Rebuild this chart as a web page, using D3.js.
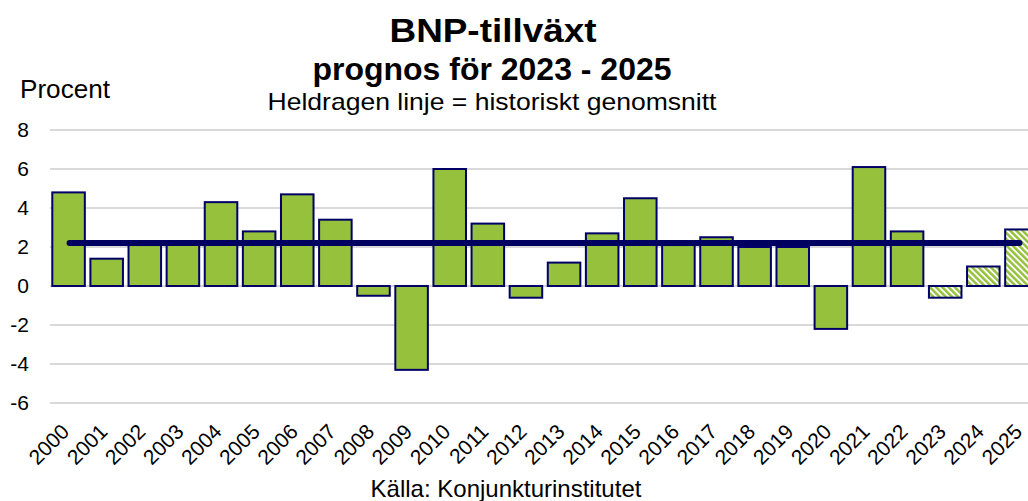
<!DOCTYPE html>
<html>
<head>
<meta charset="utf-8">
<script src="https://cdn.jsdelivr.net/npm/d3@7"></script>
<style>
  html, body { margin: 0; padding: 0; background: #fff; }
  svg { display: block; font-family: "Liberation Sans", Arial, sans-serif; }
</style>
</head>
<body>
<svg id="chart" width="1028" height="501"></svg>
<script>
const years = ["2000","2001","2002","2003","2004","2005","2006","2007","2008","2009","2010","2011","2012","2013","2014","2015","2016","2017","2018","2019","2020","2021","2022","2023","2024","2025"];
const growth = [4.8, 1.4, 2.1, 2.3, 4.3, 2.8, 4.7, 3.4, -0.5, -4.3, 6.0, 3.2, -0.6, 1.2, 2.7, 4.5, 2.1, 2.5, 2.0, 2.0, -2.2, 6.1, 2.8, -0.6, 1.0, 2.9];
const forecastYears = ["2023", "2024", "2025"];
const historicalMean = 2.2;
const yTicks = [-6, -4, -2, 0, 2, 4, 6, 8];

const svg = d3.select("#chart");
const green = "#95c13d";
const navy = "#000066";
const font = "Liberation Sans, Arial, sans-serif";

const x = d3.scaleBand().domain(years).range([50, 1040]).paddingInner(0.146).paddingOuter(0.06);
const y = d3.scaleLinear().domain([-6, 8]).range([403, 130]);

// hatch pattern
const defs = svg.append("defs");
const pat = defs.append("pattern")
  .attr("id", "hatch").attr("patternUnits", "userSpaceOnUse")
  .attr("width", 4.4).attr("height", 4.4)
  .attr("patternTransform", "rotate(-45)");
pat.append("rect").attr("width", 4.4).attr("height", 4.4).attr("fill", "#fff");
pat.append("rect").attr("x", 0).attr("width", 2.5).attr("height", 4.4).attr("fill", green);

// gridlines
svg.append("g").selectAll("line").data(yTicks).join("line")
  .attr("x1", 50).attr("x2", 1028)
  .attr("y1", d => y(d)).attr("y2", d => y(d))
  .attr("stroke", "#d9d9d9").attr("stroke-width", 1.8);

// y axis labels
const yAxis = d3.axisLeft(y).tickValues(yTicks).tickSize(0).tickPadding(0).tickFormat(d => String(d));
const ya = svg.append("g").attr("transform", "translate(29,0)").call(yAxis);
ya.select(".domain").remove();
ya.selectAll("text").attr("font-size", 21).attr("fill", "#000").attr("font-family", font);

// bars
svg.append("g").selectAll("rect").data(years).join("rect")
  .attr("x", d => x(d))
  .attr("width", x.bandwidth())
  .attr("y", (d, i) => y(Math.max(0, growth[i])))
  .attr("height", (d, i) => Math.abs(y(growth[i]) - y(0)))
  .attr("fill", d => forecastYears.includes(d) ? "url(#hatch)" : green)
  .attr("stroke", navy).attr("stroke-width", 2);

// mean line
svg.append("line")
  .attr("x1", x(years[0]) + x.bandwidth() / 2 + 1)
  .attr("x2", x(years[years.length - 1]) + x.bandwidth() / 2 - 2)
  .attr("y1", y(historicalMean)).attr("y2", y(historicalMean))
  .attr("stroke", "#000060").attr("stroke-width", 6).attr("stroke-linecap", "round");

// x labels
const xAxis = d3.axisBottom(x).tickSize(0).tickPadding(0);
const xa = svg.append("g").call(xAxis);
xa.select(".domain").remove();
xa.selectAll(".tick").attr("transform", d => `translate(${x(d) + x.bandwidth() / 2 + 2},433)`);
xa.selectAll("text")
  .attr("font-size", 21).attr("fill", "#000").attr("font-family", font)
  .attr("text-anchor", "end").attr("dy", 0).attr("y", 0)
  .attr("transform", "rotate(-45)");

// titles
svg.append("text").attr("x", 493).attr("y", 42).attr("text-anchor", "middle")
  .attr("font-size", 34).attr("font-weight", "bold")
  .attr("textLength", 207).attr("lengthAdjust", "spacingAndGlyphs").text("BNP-tillväxt");
svg.append("text").attr("x", 492).attr("y", 80).attr("text-anchor", "middle")
  .attr("font-size", 31).attr("font-weight", "bold")
  .attr("textLength", 359).attr("lengthAdjust", "spacingAndGlyphs").text("prognos för 2023 - 2025");
svg.append("text").attr("x", 492).attr("y", 110).attr("text-anchor", "middle")
  .attr("font-size", 24)
  .attr("textLength", 449).attr("lengthAdjust", "spacingAndGlyphs").text("Heldragen linje = historiskt genomsnitt");
svg.append("text").attr("x", 20).attr("y", 98)
  .attr("font-size", 25)
  .attr("textLength", 90).attr("lengthAdjust", "spacingAndGlyphs").text("Procent");
svg.append("text").attr("x", 506).attr("y", 497).attr("text-anchor", "middle")
  .attr("font-size", 24).text("Källa: Konjunkturinstitutet");
</script>
</body>
</html>
